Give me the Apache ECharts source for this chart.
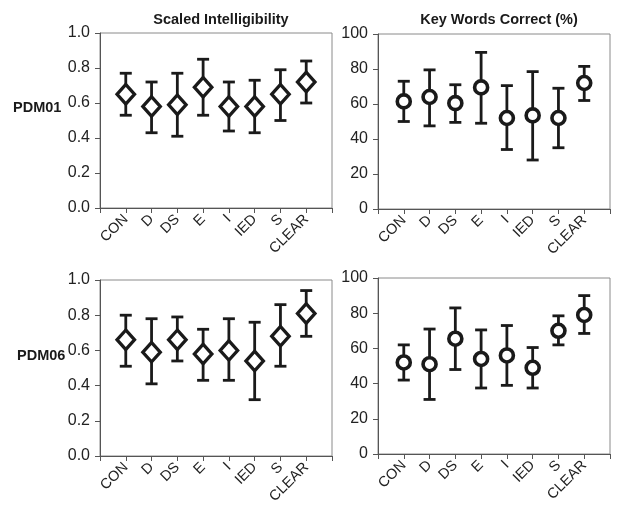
<!DOCTYPE html>
<html>
<head>
<meta charset="utf-8">
<script src="https://cdn.jsdelivr.net/npm/echarts@6/dist/echarts.min.js"></script>
<style>
html,body{margin:0;padding:0;background:#fff;}
#main{width:620px;height:512px;}
</style>
</head>
<body>
<div id="main"></div>
<script>
const categories = ['CON','D','DS','E','I','IED','S','CLEAR'];
const colTitles = ['Scaled Intelligibility','Key Words Correct (%)'];
const rowLabels = ['PDM01','PDM06'];
const siTicks = [0, 0.2, 0.4, 0.6, 0.8, 1.0];
const kwTicks = [0, 20, 40, 60, 80, 100];

const si01Mean = [0.65,0.58,0.59,0.69,0.58,0.58,0.65,0.72];
const si01Low  = [0.53,0.43,0.41,0.53,0.44,0.43,0.50,0.60];
const si01High = [0.77,0.72,0.77,0.85,0.72,0.73,0.79,0.84];

const kw01Mean = [61.5,64,60.5,69.5,52,53.5,52,72];
const kw01Low  = [50,47.5,49.5,49,34,28,35,62];
const kw01High = [73,79.5,71,89.5,70.5,78.5,69,81.5];

const si06Mean = [0.66,0.59,0.66,0.58,0.60,0.54,0.68,0.81];
const si06Low  = [0.51,0.41,0.54,0.43,0.43,0.32,0.51,0.68];
const si06High = [0.80,0.78,0.79,0.72,0.78,0.76,0.86,0.94];

const kw06Mean = [52,51,65.5,54,56,49,70,79];
const kw06Low  = [42,31,48,37.5,39,37.5,62,68.5];
const kw06High = [62,71,83,70.5,73,60.5,78.5,90];

const panels = [
  {mean: si01Mean, low: si01Low, high: si01High, ticks: siTicks, sym: 'diamond', grid: {left:100, top:33, width:232, height:175}},
  {mean: kw01Mean, low: kw01Low, high: kw01High, ticks: kwTicks, sym: 'circle',  grid: {left:378, top:34, width:232, height:175}},
  {mean: si06Mean, low: si06Low, high: si06High, ticks: siTicks, sym: 'diamond', grid: {left:100, top:280, width:232, height:176}},
  {mean: kw06Mean, low: kw06Low, high: kw06High, ticks: kwTicks, sym: 'circle',  grid: {left:378, top:278, width:232, height:176}}
];

const FONT = '"Liberation Sans", Arial, sans-serif';
const grids = [], xAxes = [], yAxes = [], series = [];

panels.forEach((p, i) => {
  grids.push(Object.assign({show: true, borderColor: '#8a8a8a', borderWidth: 1, backgroundColor: 'transparent'}, p.grid));
  xAxes.push({
    type: 'value', gridIndex: i, min: 0, max: categories.length + 1, interval: 1,
    axisLine: {show: true, lineStyle: {color: '#555', width: 1}},
    axisTick: {show: true, inside: false, length: 5, lineStyle: {color: '#555'}},
    splitLine: {show: false},
    axisLabel: {
      rotate: 45, margin: 9, fontSize: 14.5, color: '#222', fontFamily: FONT,
      showMinLabel: true, showMaxLabel: true,
      formatter: v => categories[Math.round(v) - 1] || ''
    }
  });
  const step = p.ticks[1] - p.ticks[0];
  const dec = step < 1 ? 1 : 0;
  yAxes.push({
    type: 'value', gridIndex: i, min: p.ticks[0], max: p.ticks[p.ticks.length - 1], interval: step,
    axisLine: {show: true, lineStyle: {color: '#555', width: 1}},
    axisTick: {show: true, inside: false, length: 5, lineStyle: {color: '#555'}},
    splitLine: {show: false},
    axisLabel: {margin: 10, fontSize: 16, color: '#222', fontFamily: FONT,
      formatter: v => Number(v).toFixed(dec)}
  });
  const errData = categories.map((c, k) => [k + 1, p.mean[k], p.low[k], p.high[k]]);
  series.push({
    type: 'custom', xAxisIndex: i, yAxisIndex: i, z: 2, silent: true,
    data: errData,
    encode: {x: 0, y: [2, 3]},
    renderItem: function (params, api) {
      const x = api.value(0);
      const lo = api.coord([x, api.value(2)]);
      const hi = api.coord([x, api.value(3)]);
      const hw = 6;
      const st = {stroke: '#1a1a1a', lineWidth: 2.8};
      return {
        type: 'group',
        children: [
          {type: 'line', shape: {x1: lo[0], y1: lo[1], x2: hi[0], y2: hi[1]}, style: st},
          {type: 'line', shape: {x1: lo[0] - hw, y1: lo[1], x2: lo[0] + hw, y2: lo[1]}, style: st},
          {type: 'line', shape: {x1: hi[0] - hw, y1: hi[1], x2: hi[0] + hw, y2: hi[1]}, style: st}
        ]
      };
    }
  });
  series.push({
    type: 'scatter', xAxisIndex: i, yAxisIndex: i, z: 3, silent: true,
    symbol: p.sym,
    symbolSize: p.sym === 'diamond' ? [17.5, 19.5] : 13,
    itemStyle: {color: '#fff', borderColor: '#1a1a1a', borderWidth: p.sym === 'diamond' ? 3.3 : 3.6, opacity: 1},
    data: categories.map((c, k) => [k + 1, p.mean[k]])
  });
});

const titles = [
  {text: colTitles[0], left: 216, top: 7, textAlign: 'center'},
  {text: colTitles[1], left: 494, top: 7, textAlign: 'center'},
  {text: rowLabels[0], left: 8, top: 95},
  {text: rowLabels[1], left: 12, top: 343}
].map(t => Object.assign(t, {textStyle: {fontSize: 14.5, fontWeight: 'bold', color: '#1a1a1a', fontFamily: FONT}}));

const chart = echarts.init(document.getElementById('main'), null, {renderer: 'canvas'});
chart.setOption({
  animation: false,
  backgroundColor: '#fff',
  title: titles,
  grid: grids,
  xAxis: xAxes,
  yAxis: yAxes,
  series: series
});
</script>
</body>
</html>
